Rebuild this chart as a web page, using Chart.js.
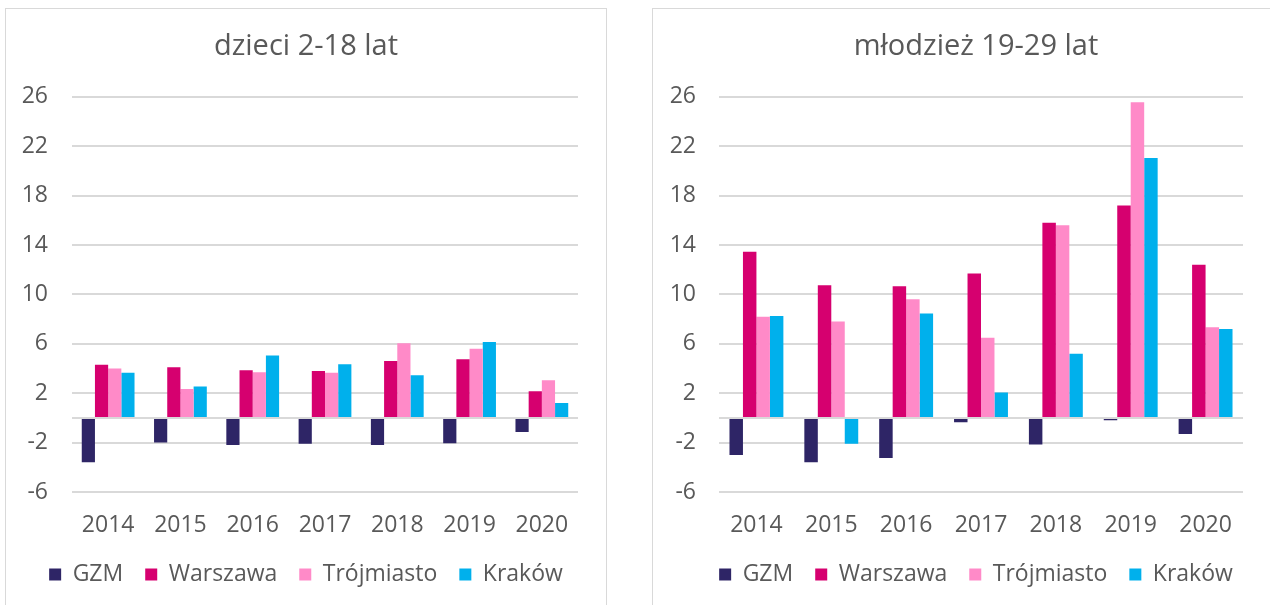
<!DOCTYPE html>
<html>
<head>
<meta charset="utf-8">
<script src="https://cdn.jsdelivr.net/npm/chart.js@4"></script>
<style>
    html, body { margin: 0; padding: 0; background: #fff; overflow: hidden; }
    .box { position: absolute; border: 1px solid #d9d9d9; background: #fff; }
</style>
</head>
<body>
<div class="box" style="left:5px; top:8px; width:600px; height:600px;">
    <canvas id="chartKids"></canvas>
</div>
<div class="box" style="left:652px; top:8px; width:646px; height:600px;">
    <canvas id="chartYouth"></canvas>
</div>
<script>
const years = ["2014", "2015", "2016", "2017", "2018", "2019", "2020"];
const seriesNames = ["GZM", "Warszawa", "Trójmiasto", "Kraków"];
const seriesColors = ["#2e2566", "#d6006f", "#ff8ac8", "#00b0ec"];

// dzieci 2-18 lat
const kidsGZM = [-3.6, -2.0, -2.2, -2.1, -2.2, -2.05, -1.15];
const kidsWarszawa = [4.3, 4.1, 3.85, 3.8, 4.6, 4.75, 2.15];
const kidsTrojmiasto = [4.0, 2.35, 3.7, 3.65, 6.05, 5.6, 3.05];
const kidsKrakow = [3.65, 2.55, 5.05, 4.35, 3.45, 6.15, 1.2];

// młodzież 19-29 lat
const youthGZM = [-3.0, -3.6, -3.25, -0.35, -2.15, -0.2, -1.3];
const youthWarszawa = [13.45, 10.75, 10.65, 11.7, 15.8, 17.2, 12.4];
const youthTrojmiasto = [8.2, 7.8, 9.6, 6.5, 15.6, 25.55, 7.35];
const youthKrakow = [8.25, -2.1, 8.45, 2.05, 5.2, 21.05, 7.2];

const yTicks = { min: -6, max: 26, step: 4 };

const textColor = "#595959";
const gridColor = "#d9d9d9";
const fontFamily = "'Open Sans', sans-serif";

function makeChart(canvasId, title, values, geo) {
    const ctx = document.getElementById(canvasId).getContext("2d");

    return new Chart(ctx, {
        type: "bar",
        data: {
            labels: years,
            datasets: values.map((data, i) => ({
                label: seriesNames[i],
                data: data,
                backgroundColor: seriesColors[i],
                borderWidth: 0,
                categoryPercentage: geo.catPct,
                barPercentage: 1
            }))
        },
        options: {
            responsive: false,
            animation: false,
            layout: { padding: 0 },
            plugins: {
                title: {
                    display: true,
                    text: title,
                    color: textColor,
                    font: { family: fontFamily, size: 29, weight: "normal" },
                    padding: { top: 20, bottom: 33 }
                },
                legend: {
                    position: "bottom",
                    labels: {
                        color: textColor,
                        font: { family: fontFamily, size: 23 },
                        boxWidth: 12,
                        boxHeight: 12,
                        padding: 22
                    }
                },
                tooltip: { enabled: false }
            },
            scales: {
                x: {
                    grid: { display: false },
                    border: { display: false },
                    ticks: {
                        color: textColor,
                        font: { family: fontFamily, size: 23 },
                        padding: 12,
                        maxRotation: 0
                    },
                    afterFit: scale => { scale.height = 49; }
                },
                y: {
                    min: yTicks.min,
                    max: yTicks.max,
                    border: { display: false },
                    grid: { color: gridColor, lineWidth: 2, drawTicks: false },
                    ticks: {
                        stepSize: yTicks.step,
                        color: textColor,
                        font: { family: fontFamily, size: 23 },
                        padding: geo.tickPad,
                        callback: v => (v === 0 ? "" : v)
                    },
                    afterBuildTicks: scale => {
                        // zero line of the category axis
                        scale.ticks.push({ value: 0 });
                        scale.ticks.sort((a, b) => a.value - b.value);
                    },
                    afterFit: scale => { scale.width = geo.axisWidth; }
                },
                // empty right axis, only keeps space on the right of the plot
                spacer: {
                    type: "linear",
                    position: "right",
                    grid: { display: false },
                    border: { display: false },
                    ticks: { display: false },
                    afterFit: scale => { scale.width = geo.rightSpace; }
                }
            }
        },
        plugins: [{
            id: "fixedLegend",
            beforeLayout(chart) {
                if (chart.legend && !chart.legend._patched) {
                    const fit = chart.legend.fit;
                    chart.legend.fit = function () {
                        fit.call(this);
                        this.height = 68;
                    };
                    chart.legend._patched = true;
                }
            }
        }]
    });
}

const kidsCanvas = document.getElementById("chartKids");
kidsCanvas.width = 600;
kidsCanvas.height = 600;
const youthCanvas = document.getElementById("chartYouth");
youthCanvas.width = 646;
youthCanvas.height = 600;

makeChart("chartKids", "dzieci 2-18 lat",
    [kidsGZM, kidsWarszawa, kidsTrojmiasto, kidsKrakow],
    { rightSpace: 28, axisWidth: 66, tickPad: 24, catPct: 0.73 });

makeChart("chartYouth", "młodzież 19-29 lat",
    [youthGZM, youthWarszawa, youthTrojmiasto, youthKrakow],
    { rightSpace: 56, axisWidth: 66, tickPad: 23, catPct: 0.72 });
</script>
</body>
</html>
